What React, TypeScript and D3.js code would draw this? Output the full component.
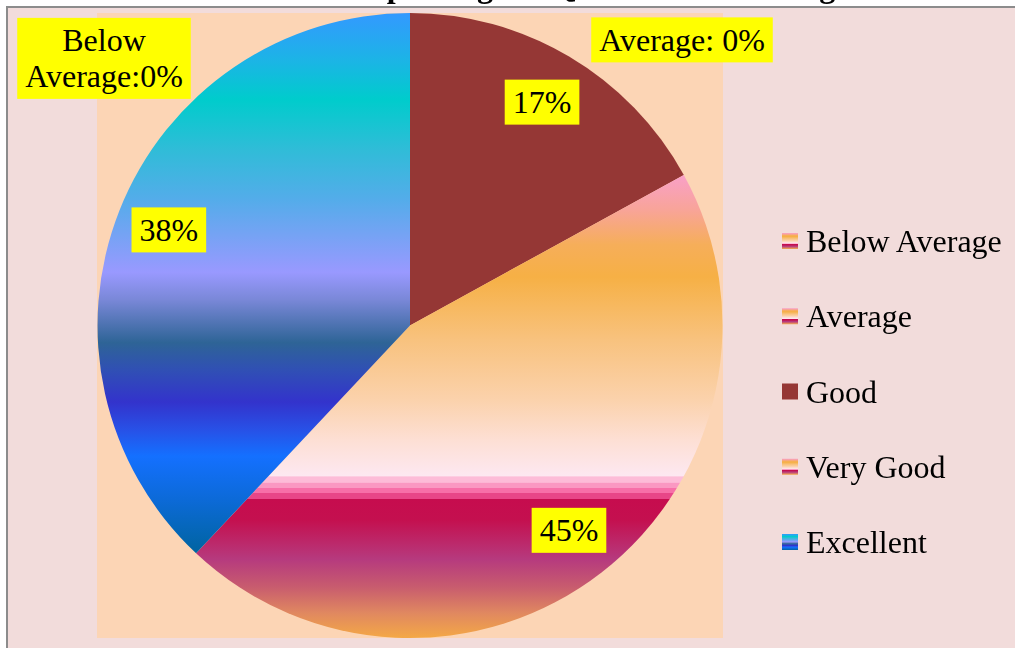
import { useRef, useEffect } from "react";
import * as d3 from "d3";

const categories = ["Below Average", "Average", "Good", "Very Good", "Excellent"];
const shares = [0, 0, 17, 45, 38];
const labelTexts = [["Below", "Average:0%"], ["Average: 0%"], ["17%"], ["45%"], ["38%"]];
const title = "Need and Effect of improving the Qualitative Teaching.";

const FONT = "'Liberation Serif', 'Times New Roman', serif";

// Excel-like preset gradients (vertical, per slice bounding box)
const FIRE: [number, string][] = [
  [0, "#f9a0c8"], [0.076, "#f8a498"], [0.15, "#f6ae5a"], [0.22, "#f6b045"],
  [0.356, "#f8c27e"], [0.486, "#fbd2ac"], [0.572, "#fddfd4"], [0.65, "#fde8f1"],
  [0.652, "#fdbcd8"], [0.664, "#fdbcd8"], [0.665, "#fa98c2"], [0.675, "#fa98c2"],
  [0.676, "#f76fa8"], [0.686, "#f76fa8"], [0.687, "#e84688"], [0.699, "#e84688"],
  [0.70, "#c60c4e"], [0.745, "#c4104f"], [0.83, "#b63a7e"], [0.89, "#c85c6e"],
  [0.946, "#e08860"], [1, "#f4a846"],
];
const PEACOCK: [number, string][] = [
  [0, "#3399ff"], [0.087, "#1cb4e6"], [0.16, "#00cccc"], [0.254, "#30bcd8"],
  [0.346, "#54acea"], [0.48, "#9999ff"], [0.53, "#7a88d8"], [0.61, "#2e6496"],
  [0.66, "#3050b4"], [0.72, "#3333cc"], [0.77, "#2850e6"], [0.82, "#1470ff"],
  [0.9, "#0c6ad8"], [1, "#0064a0"],
];
const FILLS = ["url(#fire)", "url(#fire)", "#953735", "url(#fire)", "url(#peacock)"];

export default function App() {
  const svgRef = useRef<SVGSVGElement>(null);

  useEffect(() => {
    if (!svgRef.current) return;
    const width = 1015;
    const height = 648;
    const svg = d3.select(svgRef.current);
    svg.selectAll("*").remove();
    svg.attr("width", width).attr("height", height);

    const defs = svg.append("defs");
    const addGrad = (id: string, stops: [number, string][]) => {
      const lg = defs.append("linearGradient").attr("id", id)
        .attr("x1", 0).attr("y1", 0).attr("x2", 0).attr("y2", 1);
      stops.forEach(([o, c]) => lg.append("stop").attr("offset", o).attr("stop-color", c));
    };
    addGrad("fire", FIRE);
    addGrad("peacock", PEACOCK);

    svg.append("rect").attr("width", width).attr("height", height).attr("fill", "#fff");

    // title (mostly cut off by the top edge, as in the source)
    svg.append("text")
      .attr("x", 90).attr("y", -3)
      .attr("font-family", FONT).attr("font-weight", "bold").attr("font-size", 32)
      .text(title);

    // chart area
    svg.append("rect")
      .attr("x", 7).attr("y", 7).attr("width", width).attr("height", height)
      .attr("fill", "#f2dcdb").attr("stroke", "#8c8c8c").attr("stroke-width", 2);

    // plot area
    const plot = { x: 97, y: 13, w: 626, h: 625 };
    svg.append("rect")
      .attr("x", plot.x).attr("y", plot.y).attr("width", plot.w).attr("height", plot.h)
      .attr("fill", "#fcd5b5");

    const cx = plot.x + plot.w / 2;
    const cy = plot.y + plot.h / 2;
    const R = Math.min(plot.w, plot.h) / 2;

    const pie = d3.pie<number>().sort(null).value((d) => d)(shares);
    const arc = d3.arc<d3.PieArcDatum<number>>().innerRadius(0).outerRadius(R);
    const labelArc = d3.arc<d3.PieArcDatum<number>>().innerRadius(R * 0.83).outerRadius(R * 0.83);

    const g = svg.append("g").attr("transform", `translate(${cx},${cy})`);
    g.selectAll("path.slice")
      .data(pie.filter((d) => d.value > 0))
      .enter()
      .append("path")
      .attr("class", "slice")
      .attr("d", arc)
      .attr("fill", (d) => FILLS[d.index]);

    // data labels
    const fontSize = 32;
    const lineH = 36;
    const drawLabel = (lines: string[], x: number, y: number) => {
      const lg = svg.append("g").attr("transform", `translate(${x},${y})`);
      const rect = lg.append("rect").attr("fill", "#ffff00");
      const t = lg.append("text")
        .attr("text-anchor", "middle")
        .attr("font-family", FONT).attr("font-size", fontSize).attr("fill", "#000");
      const y0 = -((lines.length - 1) * lineH) / 2;
      lines.forEach((ln, i) => {
        t.append("tspan").attr("x", 0).attr("y", y0 + i * lineH).attr("dy", "0.34em").text(ln);
      });
      const bb = (t.node() as SVGTextElement).getBBox();
      rect.attr("x", bb.x - 8).attr("y", bb.y - 4.5)
        .attr("width", bb.width + 16).attr("height", bb.height + 9);
    };

    pie.forEach((d) => {
      if (d.value > 0) {
        const [lx, ly] = labelArc.centroid(d);
        drawLabel(labelTexts[d.index], cx + lx, cy + ly);
      }
    });
    // zero-value labels moved to the top corners
    drawLabel(labelTexts[0], 104, 58.5);
    drawLabel(labelTexts[1], 682, 40);

    // legend
    const legend = svg.append("g").attr("transform", "translate(782,241)");
    const step = 75.25;
    categories.forEach((c, i) => {
      const row = legend.append("g").attr("transform", `translate(0,${i * step})`);
      row.append("rect").attr("x", 0).attr("y", -8).attr("width", 16).attr("height", 16)
        .attr("fill", FILLS[i]);
      row.append("text").attr("x", 24).attr("y", 0).attr("dy", "0.35em")
        .attr("font-family", FONT).attr("font-size", fontSize).attr("fill", "#000")
        .text(c);
    });
  }, []);

  return (
    <div style={{ position: "fixed", left: 0, top: 0, width: 1015, height: 648, overflow: "hidden" }}>
      <svg ref={svgRef} style={{ display: "block" }} />
    </div>
  );
}
